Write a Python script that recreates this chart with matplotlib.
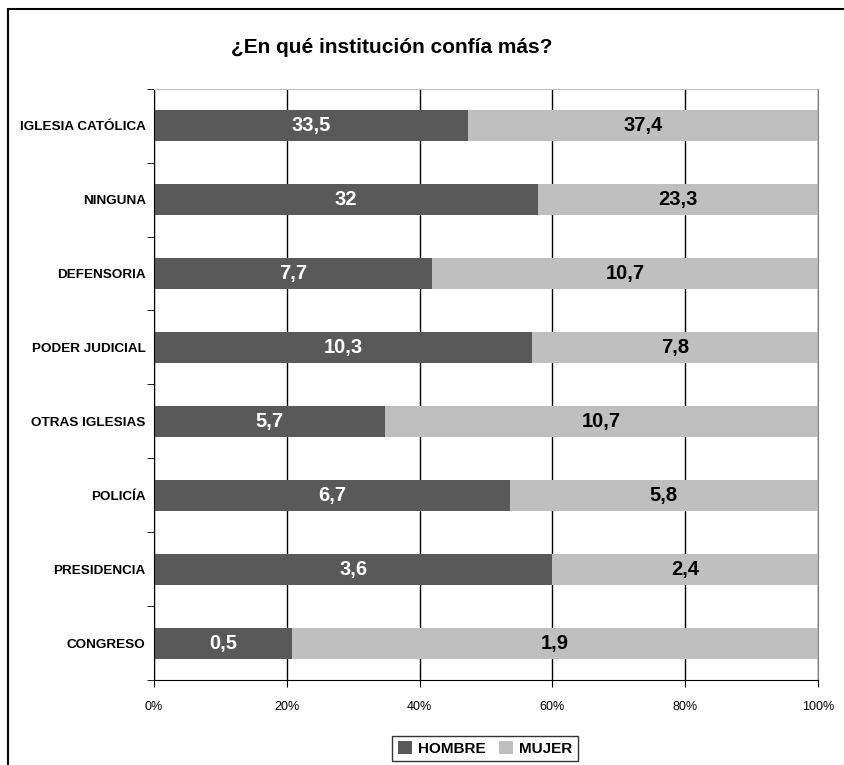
import matplotlib.pyplot as plt
import numpy as np
from matplotlib import font_manager
from matplotlib.patches import Rectangle

categories = ['IGLESIA CATÓLICA', 'NINGUNA', 'DEFENSORIA', 'PODER JUDICIAL',
              'OTRAS IGLESIAS', 'POLICÍA', 'PRESIDENCIA', 'CONGRESO']
hombre = [33.5, 32, 7.7, 10.3, 5.7, 6.7, 3.6, 0.5]
mujer = [37.4, 23.3, 10.7, 7.8, 10.7, 5.8, 2.4, 1.9]
x_ticks = [0, 20, 40, 60, 80, 100]

# narrow face for axis labels if available, else regular at a smaller size
names = {f.name for f in font_manager.fontManager.ttflist}
if 'Liberation Sans Narrow' in names:
    narrow, ysize, legsize = 'Liberation Sans Narrow', 10.5, 12.5
else:
    narrow, ysize, legsize = 'Liberation Sans', 9.7, 11
plt.rcParams['font.family'] = ['Liberation Sans', 'DejaVu Sans']

dark = '#595959'
light = '#bfbfbf'


def fmt(v):
    return f'{v:g}'.replace('.', ',')


fig = plt.figure(figsize=(8.44, 7.65), dpi=100)
ax = fig.add_axes([154 / 844, 1 - 680 / 765, (818 - 154) / 844, (680 - 88.7) / 765])

h = np.array(hombre)
m = np.array(mujer)
tot = h + m
h_pct = h / tot * 100
m_pct = m / tot * 100
y = np.arange(len(categories))

ax.set_axisbelow(True)
ax.grid(axis='x', color='black', linewidth=1)
ax.barh(y, h_pct, height=0.42, color=dark, label='HOMBRE')
ax.barh(y, m_pct, left=h_pct, height=0.42, color=light, label='MUJER')

for i in range(len(categories)):
    ax.text(h_pct[i] / 2, y[i], fmt(hombre[i]), ha='center', va='center',
            color='white', fontsize=14.5, fontweight='bold')
    ax.text(h_pct[i] + m_pct[i] / 2, y[i], fmt(mujer[i]), ha='center', va='center',
            color='black', fontsize=14.5, fontweight='bold')

ax.set_ylim(len(categories) - 0.5, -0.5)
ax.set_xlim(0, 100)
ax.set_yticks(y)
ax.set_yticklabels(categories, fontsize=ysize, fontweight='bold', family=narrow)
ax.set_yticks(np.arange(-0.5, len(categories), 1), minor=True)
ax.tick_params(axis='y', which='major', length=0, pad=6)
ax.tick_params(axis='y', which='minor', length=5, direction='out', color='black')
ax.set_xticks(x_ticks)
ax.set_xticklabels([f'{t}%' for t in x_ticks], fontsize=9)
ax.tick_params(axis='x', length=5, direction='out', pad=10, color='black')

ax.spines['left'].set_color('black')
ax.spines['bottom'].set_color('black')
ax.spines['top'].set_color('#bfbfbf')
ax.spines['right'].set_color('#808080')

fig.text(392 / 844, 1 - 53 / 765, '¿En qué institución confía más?', ha='center', va='baseline',
         fontsize=15, fontweight='bold')

leg = ax.legend(loc='upper center', bbox_to_anchor=(485 / 844, 1 - 736 / 765),
                bbox_transform=fig.transFigure, ncol=2, frameon=True, fancybox=False,
                edgecolor='black', prop={'weight': 'bold', 'size': legsize, 'family': narrow},
                handlelength=0.9, handleheight=0.85, handletextpad=0.4, columnspacing=0.9,
                borderpad=0.35, borderaxespad=0)
leg.get_frame().set_linewidth(1)

fig.patches.append(Rectangle((8 / 844, -0.05), 1.1, 1 - 9 / 765 + 0.05, transform=fig.transFigure,
                             fill=False, edgecolor='black', linewidth=1.5))

fig.savefig('out.png', dpi=100)
